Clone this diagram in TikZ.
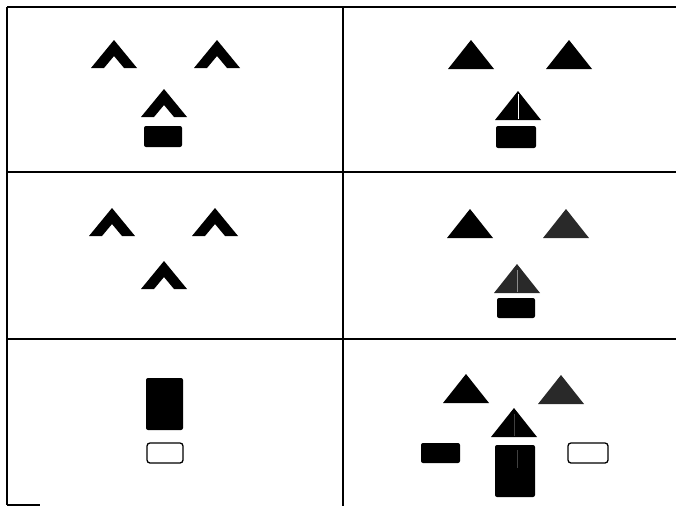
\documentclass[tikz,border=0pt]{standalone}
\begin{document}
\begin{tikzpicture}[x=1pt,y=-1pt,
  frame/.style={line width=1.6pt,black},
  solidtri/.style={fill=black},
  greytri/.style={fill=black!84},
  blk/.style={fill=black,rounded corners=2pt},
  hollow/.style={draw=black,line width=1.3pt,fill=white,rounded corners=3pt},
  chevron/.pic={\fill[black] (-23,28) -- (0,0) -- (23,28) -- (10,28) -- (0,16) -- (-10,28) -- cycle;},
  tri/.pic={\path[pic actions] (-23,29) -- (0,0) -- (23,29) -- cycle;}
]
\useasboundingbox (0,0) rectangle (676,506);
% grid
\draw[frame] (7,7) -- (676,7);
\draw[frame] (7,172) -- (676,172);
\draw[frame] (7,339) -- (676,339);
\draw[frame] (7,7) -- (7,505);
\draw[frame] (343,7) -- (343,506);
\draw[frame] (7,505) -- (40,505);
% panel 1
\pic at (114,40) {chevron};
\pic at (217,40) {chevron};
\pic at (164,89) {chevron};
\fill[blk] (144,126) rectangle (182,147);
% panel 2
\pic[solidtri] at (471,40) {tri};
\pic[solidtri] at (569,40) {tri};
\pic[solidtri] at (518,91) {tri};
\draw[white,line width=0.7pt] (518,94) -- (518,119);
\fill[blk] (496,126) rectangle (536,148);
% panel 3
\pic at (112,208) {chevron};
\pic at (215,208) {chevron};
\pic at (164,261) {chevron};
% panel 4
\pic[solidtri] at (470,209) {tri};
\pic[greytri] at (566,209) {tri};
\pic[greytri] at (517,264) {tri};
\draw[black!45,line width=0.8pt] (517,270) -- (517,292);
\fill[blk] (497,298) rectangle (535,318);
% panel 5
\fill[blk] (146,378) rectangle (183,430);
\draw[hollow] (147,443) rectangle (183,463);
% panel 6
\pic[solidtri] at (466,374) {tri};
\pic[greytri] at (561,375) {tri};
\pic[solidtri] at (514,408) {tri};
\draw[black!75,line width=0.5pt] (514,414) -- (514,436);
\fill[blk] (421,443) rectangle (460,463);
\fill[blk] (495,445) rectangle (535,497);
\draw[black!75,line width=0.5pt] (517,450) -- (517,468);
\draw[hollow] (568,443) rectangle (608,463);
\end{tikzpicture}
\end{document}
